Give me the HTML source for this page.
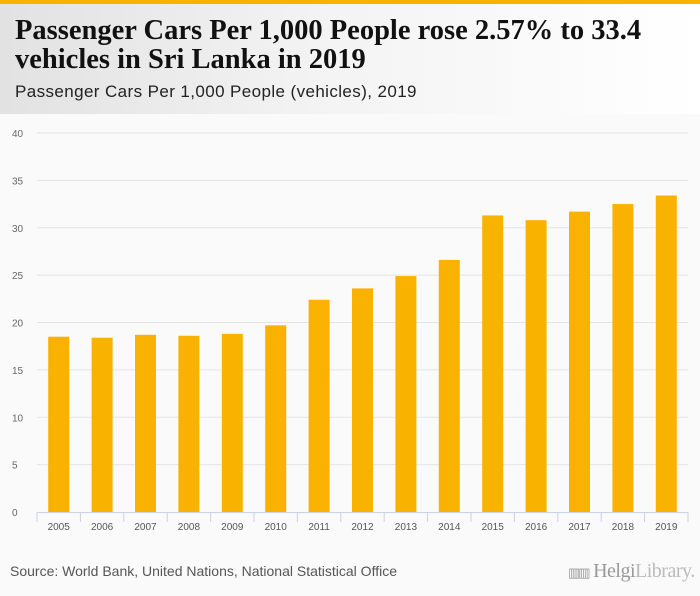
<!DOCTYPE html>
<html><head><meta charset="utf-8"><style>
body{margin:0;width:700px;height:596px;background:#fafafa;font-family:"Liberation Sans",sans-serif;position:relative;overflow:hidden}
#topbar{position:absolute;left:0;top:0;width:700px;height:4px;background:#f9b200}
#header{position:absolute;left:0;top:4px;width:700px;height:110px;background:linear-gradient(90deg,#e2e2e2 0%,#f3f3f3 45%,#ffffff 100%)}
#title{position:absolute;left:15px;top:12px;font-family:"Liberation Serif",serif;font-weight:bold;font-size:28.5px;line-height:29px;color:#111;white-space:nowrap}
#subtitle{position:absolute;left:15px;top:78px;font-size:17px;letter-spacing:0.4px;color:#222;white-space:nowrap}
#source{position:absolute;left:10px;top:563px;font-size:14px;color:#555;white-space:nowrap}
#logo{position:absolute;left:568px;top:560px;font-family:"Liberation Serif",serif;font-size:20px;color:#999;letter-spacing:-0.5px;white-space:nowrap}
</style></head><body>
<div id="topbar"></div>
<div id="header">
<div id="title">Passenger Cars Per 1,000 People rose 2.57% to 33.4<br>vehicles in Sri Lanka in 2019</div>
<div id="subtitle">Passenger Cars Per 1,000 People (vehicles), 2019</div>
</div>
<svg id="chart" width="700" height="596" style="position:absolute;left:0;top:0"></svg>
<div id="source">Source: World Bank, United Nations, National Statistical Office</div>
<div id="logo"><span style="font-size:13px;letter-spacing:-2px">▥▥</span> Helgi<span style="color:#bbb">Library.</span></div>
<script>
const categories=["2005","2006","2007","2008","2009","2010","2011","2012","2013","2014","2015","2016","2017","2018","2019"];
const values=[18.5,18.4,18.7,18.6,18.8,19.7,22.4,23.6,24.9,26.6,31.3,30.8,31.7,32.5,33.4];
const yTicks=[0,5,10,15,20,25,30,35,40];
const NS="http://www.w3.org/2000/svg";
const svg=document.getElementById('chart');
const x0=37,x1=688,yBase=512,yTop=133,yMax=40;
const bw=(x1-x0)/categories.length;
const y=v=>yBase-(v/yMax)*(yBase-yTop);
const xc=i=>x0+bw*(i+0.5);
function mk(t,a){const e=document.createElementNS(NS,t);for(const k in a)e.setAttribute(k,a[k]);svg.appendChild(e);return e;}
yTicks.forEach(t=>{
 if(t>0){const g=mk('line',{x1:x0,x2:x1,y1:y(t),y2:y(t),stroke:'#e4e4e4','stroke-width':1});
 
 }
 const l=mk('text',{x:12,y:y(t)+4,'font-size':10,fill:'#666','font-family':'Liberation Sans, sans-serif'});
 l.textContent=t;
 
 
});
values.forEach((v,i)=>{
 const r=mk('rect',{x:xc(i)-10.5,y:y(v),width:21,height:yBase-y(v),fill:'#f9b200'});
 
 
});
const ax=mk('line',{x1:x0,x2:x1,y1:yBase+0.5,y2:yBase+0.5,stroke:'#c8d3e6','stroke-width':1});


for(let i=0;i<=categories.length;i++){
 const tk=mk('line',{x1:x0+bw*i,x2:x0+bw*i,y1:yBase,y2:yBase+10,stroke:'#c8d3e6','stroke-width':1});
 
 
}
categories.forEach((c,i)=>{
 const l=mk('text',{x:xc(i),y:530,'font-size':10,fill:'#555','text-anchor':'middle','font-family':'Liberation Sans, sans-serif'});
 l.textContent=c;
 
 
});
</script>
</body></html>
